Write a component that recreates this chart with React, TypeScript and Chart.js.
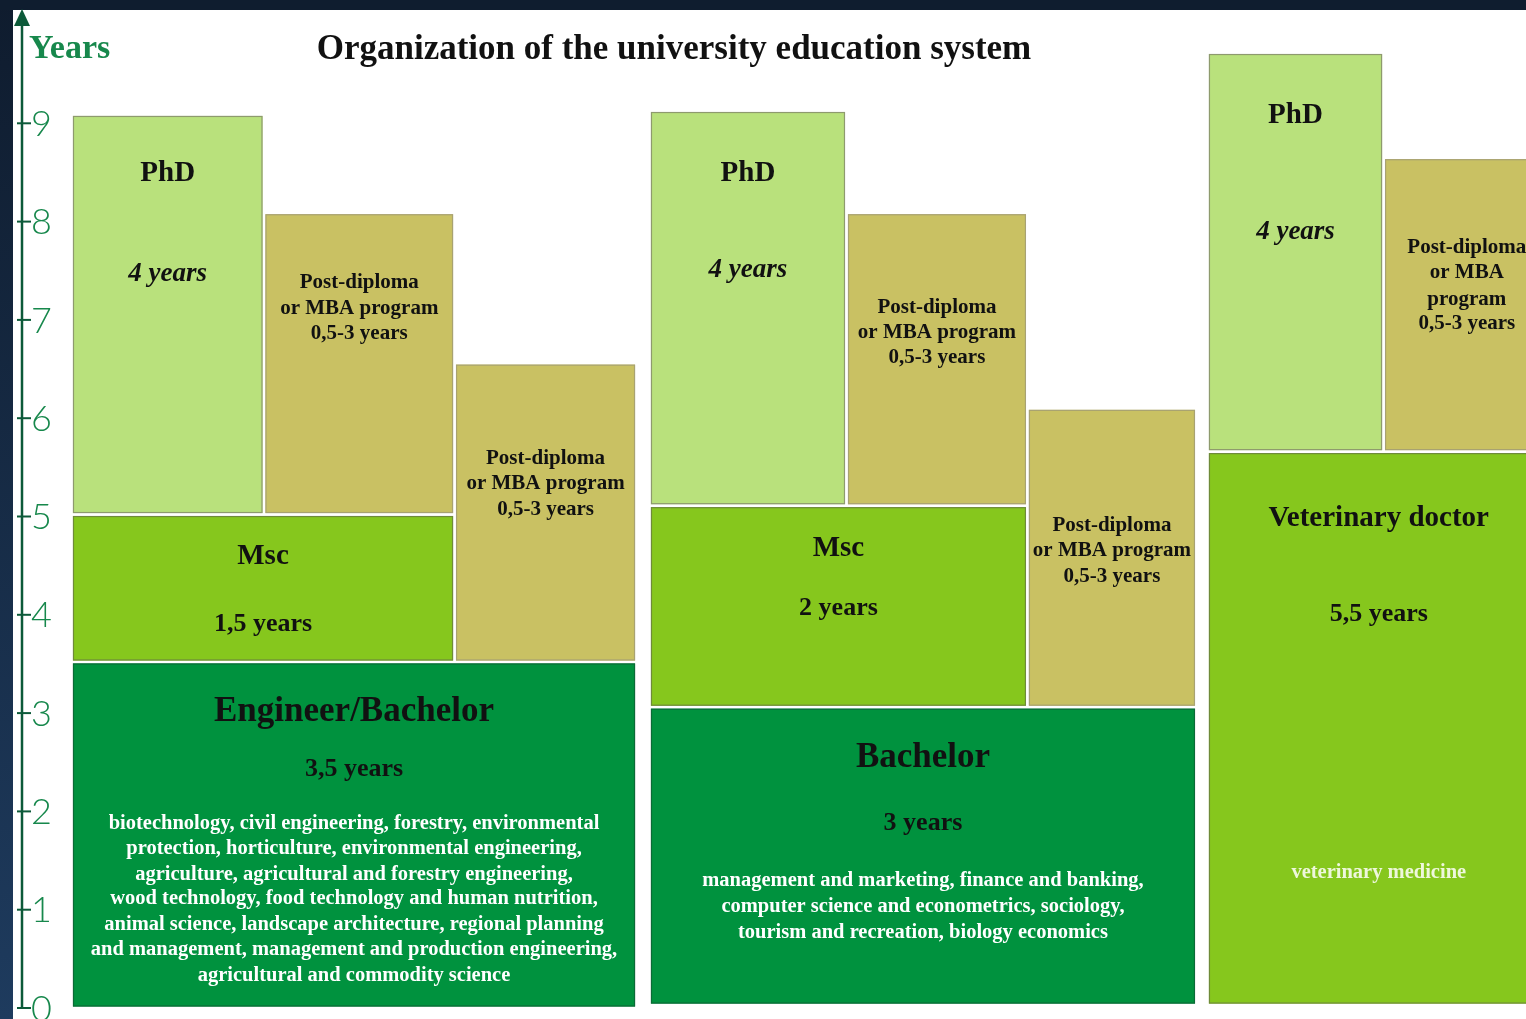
import React, { useEffect, useRef } from "react";
import { Chart, registerables } from "chart.js";

Chart.register(...registerables);

// ---- data ----
const TITLE = "Organization of the university education system";
const AXIS_NAME = "Years";
const YEAR_TICKS = [0, 1, 2, 3, 4, 5, 6, 7, 8, 9];

const BOX_NAMES = [
  "Engineer/Bachelor", "Msc", "PhD", "Post-diploma", "Post-diploma",
  "Bachelor", "Msc", "PhD", "Post-diploma", "Post-diploma",
  "Veterinary doctor", "PhD", "Post-diploma",
];
const BOX_KIND = [
  "bachelor", "master", "phd", "post", "post",
  "bachelor", "master", "phd", "post", "post",
  "master", "phd", "post",
];
// horizontal lanes (relative units, 0..100 across the plot)
const LANE_START = [3.29, 3.29, 3.29, 16.09, 28.76, 41.72, 41.72, 41.72, 54.82, 66.85, 78.82, 78.82, 90.53];
const LANE_END = [40.86, 28.76, 16.09, 28.76, 40.86, 78.09, 66.85, 54.82, 66.85, 78.09, 101.6, 90.53, 101.6];
// years
const YEAR_START = [0, 3.52, 5.02, 5.02, 3.52, 0.03, 3.06, 5.11, 5.11, 3.06, 0.03, 5.66, 5.66];
const YEAR_END = [3.52, 5.02, 9.09, 8.09, 6.56, 3.06, 5.11, 9.13, 8.09, 6.1, 5.66, 9.72, 8.65];

// text lines inside each box: [text, year of line centre, style]
const BOX_TEXT: [string, number, string][][] = [
  [
    ["Engineer/Bachelor", 3.01, "h1"],
    ["3,5 years", 2.43, "dur"],
    ["biotechnology, civil engineering, forestry, environmental", 1.87, "desc"],
    ["protection, horticulture, environmental engineering,", 1.62, "desc"],
    ["agriculture, agricultural and forestry engineering,", 1.36, "desc"],
    ["wood technology, food technology and human nutrition,", 1.11, "desc"],
    ["animal science, landscape architecture, regional planning", 0.85, "desc"],
    ["and management, management and production engineering,", 0.59, "desc"],
    ["agricultural and commodity science", 0.33, "desc"],
  ],
  [["Msc", 4.59, "h2"], ["1,5 years", 3.9, "dur"]],
  [["PhD", 8.49, "h2"], ["4 years", 7.47, "durI"]],
  [["Post-diploma", 7.38, "pd"], ["or MBA program", 7.12, "pd"], ["0,5-3 years", 6.86, "pd"]],
  [["Post-diploma", 5.59, "pd"], ["or MBA program", 5.33, "pd"], ["0,5-3 years", 5.07, "pd"]],
  [
    ["Bachelor", 2.54, "h1"],
    ["3 years", 1.88, "dur"],
    ["management and marketing, finance and banking,", 1.29, "desc"],
    ["computer science and econometrics, sociology,", 1.03, "desc"],
    ["tourism and recreation, biology economics", 0.77, "desc"],
  ],
  [["Msc", 4.67, "h2"], ["2 years", 4.07, "dur"]],
  [["PhD", 8.49, "h2"], ["4 years", 7.51, "durI"]],
  [["Post-diploma", 7.13, "pd"], ["or MBA program", 6.87, "pd"], ["0,5-3 years", 6.62, "pd"]],
  [["Post-diploma", 4.91, "pd"], ["or MBA program", 4.65, "pd"], ["0,5-3 years", 4.39, "pd"]],
  [["Veterinary doctor", 4.98, "h3"], ["5,5 years", 4.01, "dur"], ["veterinary medicine", 1.38, "vet"]],
  [["PhD", 9.08, "h2"], ["4 years", 7.89, "durI"]],
  [["Post-diploma", 7.74, "pd"], ["or MBA", 7.48, "pd"], ["program", 7.21, "pd"], ["0,5-3 years", 6.96, "pd"]],
];

// ---- styles ----
const FILL: Record<string, string> = {
  phd: "#b9e17c",
  post: "#c9c163",
  master: "#86c71d",
  bachelor: "#00923e",
};
const STROKE: Record<string, string> = {
  phd: "#8e9a6e",
  post: "#a8a272",
  master: "#6f8a3a",
  bachelor: "#0b6a36",
};
const SERIF = '"Liberation Serif", "Times New Roman", serif';
const TEXT_STYLE: Record<string, { font: string; color: string }> = {
  h1: { font: `bold 35px ${SERIF}`, color: "#111111" },
  h2: { font: `bold 29px ${SERIF}`, color: "#111111" },
  h3: { font: `bold 29px ${SERIF}`, color: "#111111" },
  dur: { font: `bold 26px ${SERIF}`, color: "#111111" },
  durI: { font: `italic bold 27px ${SERIF}`, color: "#111111" },
  pd: { font: `bold 21px ${SERIF}`, color: "#111111" },
  desc: { font: `bold 20.5px ${SERIF}`, color: "#ffffff" },
  vet: { font: `bold 20.5px ${SERIF}`, color: "#eef7dc" },
};
const AXIS_DARK = "#0c5a39";
const AXIS_LABEL = "#17884c";

const diagramPlugin = {
  id: "diagram",
  beforeDraw(chart: any) {
    const { ctx, width, height } = chart;
    ctx.save();
    const g = ctx.createLinearGradient(0, 0, 0, height);
    g.addColorStop(0, "#0f1c2e");
    g.addColorStop(1, "#1e3b5e");
    ctx.fillStyle = g;
    ctx.fillRect(0, 0, width, height);
    ctx.fillStyle = "#0f1d2f";
    ctx.fillRect(0, 0, width, 10);
    ctx.fillStyle = "#ffffff";
    ctx.fillRect(13, 10, width - 13, height - 10);
    ctx.restore();
  },
  afterDatasetsDraw(chart: any) {
    const { ctx } = chart;
    const xs = chart.scales.x;
    const ys = chart.scales.y;
    const inset = 1.5;
    ctx.save();
    // boxes
    for (let i = 0; i < BOX_NAMES.length; i++) {
      const x0 = xs.getPixelForValue(LANE_START[i]) + inset;
      const x1 = xs.getPixelForValue(LANE_END[i]) - inset;
      const y0 = ys.getPixelForValue(YEAR_END[i]) + inset;
      const y1 = ys.getPixelForValue(YEAR_START[i]) - inset;
      const kind = BOX_KIND[i];
      ctx.fillStyle = FILL[kind];
      ctx.fillRect(x0, y0, x1 - x0, y1 - y0);
      ctx.strokeStyle = STROKE[kind];
      ctx.lineWidth = 1.2;
      ctx.strokeRect(x0 + 0.5, y0 + 0.5, x1 - x0 - 1, y1 - y0 - 1);
      const cx = (x0 + x1) / 2;
      ctx.textAlign = "center";
      ctx.textBaseline = "middle";
      for (const [text, yr, st] of BOX_TEXT[i]) {
        const s = TEXT_STYLE[st];
        ctx.font = s.font;
        ctx.fillStyle = s.color;
        ctx.fillText(text, cx, ys.getPixelForValue(yr));
      }
    }
    // axis
    const ax = chart.chartArea.left;
    const yTop = chart.chartArea.top;
    const yZero = ys.getPixelForValue(0);
    ctx.strokeStyle = AXIS_DARK;
    ctx.lineWidth = 2.5;
    ctx.beginPath();
    ctx.moveTo(ax, yTop);
    ctx.lineTo(ax, yZero + 1);
    ctx.stroke();
    ctx.fillStyle = AXIS_DARK;
    ctx.beginPath();
    ctx.moveTo(ax, yTop - 16);
    ctx.lineTo(ax - 8, yTop + 1);
    ctx.lineTo(ax + 8, yTop + 1);
    ctx.closePath();
    ctx.fill();
    ctx.lineWidth = 2;
    ctx.font = '300 36px Lato, "Open Sans", sans-serif';
    ctx.textAlign = "left";
    ctx.textBaseline = "middle";
    for (const v of YEAR_TICKS) {
      const py = ys.getPixelForValue(v);
      ctx.strokeStyle = AXIS_DARK;
      ctx.beginPath();
      ctx.moveTo(ax - 5, py);
      ctx.lineTo(ax + 9, py);
      ctx.stroke();
      ctx.fillStyle = AXIS_LABEL;
      ctx.fillText(String(v), ax + 9, py + 1);
    }
    // axis name
    ctx.font = `bold 34px ${SERIF}`;
    ctx.fillStyle = AXIS_LABEL;
    ctx.textAlign = "left";
    ctx.textBaseline = "alphabetic";
    ctx.fillText(AXIS_NAME, ax + 7, 58);
    // title
    ctx.font = `bold 35px ${SERIF}`;
    ctx.fillStyle = "#111111";
    ctx.textAlign = "center";
    ctx.textBaseline = "middle";
    ctx.fillText(TITLE, 674, 50);
    ctx.restore();
  },
};

export default function App() {
  const ref = useRef<HTMLCanvasElement | null>(null);
  useEffect(() => {
    if (!ref.current) return;
    const centers = BOX_NAMES.map((_, i) => ({
      x: (LANE_START[i] + LANE_END[i]) / 2,
      y: (YEAR_START[i] + YEAR_END[i]) / 2,
    }));
    const chart = new Chart(ref.current, {
      type: "scatter",
      data: {
        datasets: [
          { label: "Programs", data: centers, pointRadius: 0, pointHoverRadius: 0, showLine: false },
        ],
      },
      options: {
        responsive: false,
        animation: false,
        devicePixelRatio: 1,
        layout: { padding: { left: 22, right: 0, top: 25, bottom: 11 } },
        scales: {
          x: { type: "linear", min: 0, max: 100, display: false },
          y: { type: "linear", min: 0, max: 10, display: false },
        },
        plugins: {
          legend: { display: false },
          tooltip: { enabled: false },
          title: { display: false },
        },
        events: [],
      },
      plugins: [diagramPlugin],
    });
    return () => chart.destroy();
  }, []);
  return (
    <div style={{ position: "fixed", left: 0, top: 0, width: 1526, height: 1019, overflow: "hidden" }}>
      <canvas ref={ref} width={1526} height={1019} style={{ width: 1526, height: 1019, display: "block" }} />
    </div>
  );
}
